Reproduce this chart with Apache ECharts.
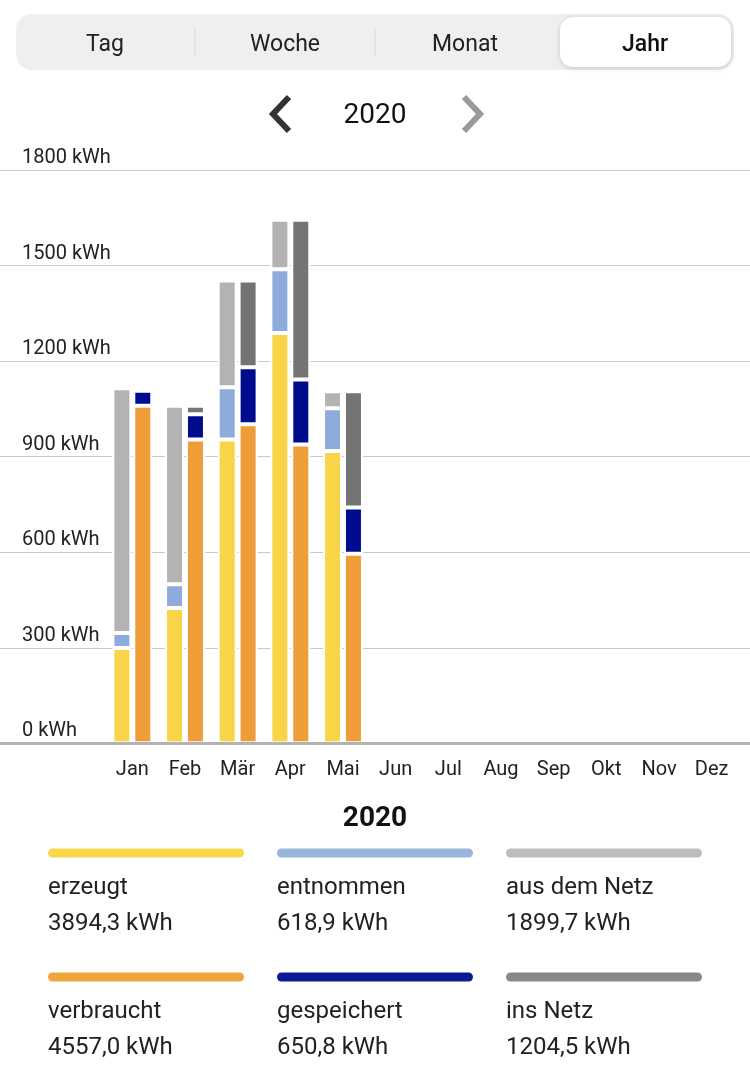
<!DOCTYPE html>
<html><head><meta charset="utf-8">
<script src="https://cdn.jsdelivr.net/npm/echarts@6/dist/echarts.min.js"></script>
<style>html,body{margin:0;padding:0;background:#fff;}#c{width:750px;height:1076px;}</style>
</head><body><div id="c"></div>
<script>
const months = ['Jan','Feb','Mär','Apr','Mai','Jun','Jul','Aug','Sep','Okt','Nov','Dez'];
const erzeugt    = [299, 425, 954, 1288, 918];
const entnommen  = [47, 74, 164, 200, 134];
const ausDemNetz = [769, 561, 335, 156, 53];
const verbraucht = [1060, 954, 1002, 938, 595];
const gespeichert= [47, 79, 179, 204, 145];
const insNetz    = [9, 27, 272, 502, 365];
const yTicks = [0, 300, 600, 900, 1200, 1500, 1800];
const legendNames  = ['erzeugt','entnommen','aus dem Netz','verbraucht','gespeichert','ins Netz'];
const legendTotals = [3894.3, 618.9, 1899.7, 4557.0, 650.8, 1204.5];
const tabs = ['Tag','Woche','Monat','Jahr'];
const yearLabel = '2020';

const colors = {
  erzeugt:'#f7d448', entnommen:'#8eacdb', ausDemNetz:'#b3b3b3',
  verbraucht:'#ef9d38', gespeichert:'#000c8e', insNetz:'#747474'
};
const legendColors = ['#f8d84a','#9ab6dc','#bdbdbd','#f0a43c','#0a1a94','#888888'];
const FONT = 'Roboto';

const chart = echarts.init(document.getElementById('c'));

function bar(name, data, stack, color){
  return {
    name, type:'bar', stack, data, xAxisIndex:1, yAxisIndex:1,
    barWidth:19, barGap:'10%',
    itemStyle:{color, borderColor:'#fff', borderWidth:2},
    emphasis:{disabled:true}, animation:false
  };
}

const graphic = [];
// tab bar
graphic.push({type:'rect', shape:{x:16,y:14,width:718,height:56,r:16}, style:{fill:'#efefef'}});
graphic.push({type:'rect', shape:{x:560,y:17,width:171,height:50,r:13},
  style:{fill:'#fff', shadowBlur:5, shadowColor:'rgba(0,0,0,0.18)', shadowOffsetY:1}});
[195,375].forEach(x=>graphic.push({type:'line', shape:{x1:x,y1:28,x2:x,y2:56}, style:{stroke:'#d6d6d6', lineWidth:1}}));
tabs.forEach((t,i)=>graphic.push({type:'text', x:105+i*180, y:45,
  style:{text:t, font:(i===3?'500 ':'')+'23px '+FONT, fill:i===3?'#111':'#222', align:'center', verticalAlign:'middle'}}));
// year navigation
graphic.push({type:'polyline', shape:{points:[[289,97],[273,114],[289,131]]}, style:{stroke:'#333', lineWidth:6, fill:null}});
graphic.push({type:'polyline', shape:{points:[[464,97],[480,114],[464,131]]}, style:{stroke:'#999', lineWidth:6, fill:null}});
graphic.push({type:'text', x:375, y:116, style:{text:yearLabel, font:'28px '+FONT, fill:'#111', align:'center', verticalAlign:'middle'}});
// summary title
graphic.push({type:'text', x:375, y:819, style:{text:yearLabel, font:'bold 28px '+FONT, fill:'#111', align:'center', verticalAlign:'middle'}});
// legend
legendNames.forEach((n,i)=>{
  const col = i%3, row = Math.floor(i/3);
  const x = 48 + col*229, y0 = 853 + row*124;
  graphic.push({type:'rect', shape:{x:x, y:y0-4.5, width:196, height:9, r:4.5}, style:{fill:legendColors[i]}});
  graphic.push({type:'text', x:x, y:y0+35, style:{text:n, font:'24px '+FONT, fill:'#222', verticalAlign:'middle'}});
  graphic.push({type:'text', x:x, y:y0+71, style:{text:legendTotals[i].toFixed(1).replace('.',',')+' kWh', font:'24px '+FONT, fill:'#222', verticalAlign:'middle'}});
});

chart.setOption({
  animation:false,
  textStyle:{fontFamily:FONT},
  grid:[
    {left:0, right:0, top:170, bottom:332.7},
    {left:106, right:12, top:170, bottom:332.7}
  ],
  xAxis:[
    {type:'value', gridIndex:0, min:0, max:1, show:true, z:10,
      axisLine:{show:true, lineStyle:{color:'#b2b2b2', width:3}},
      axisTick:{show:false}, axisLabel:{show:false}, splitLine:{show:false}},
    {type:'category', gridIndex:1, data:months,
      axisLine:{show:false}, axisTick:{show:false},
      axisLabel:{color:'#222', fontSize:20, margin:17, fontFamily:FONT}}
  ],
  yAxis:[
    {type:'value', gridIndex:0, min:0, max:1800, interval:300,
      axisLine:{show:false}, axisTick:{show:false},
      axisLabel:{inside:true, margin:22, color:'#222', fontSize:20, fontFamily:FONT,
        verticalAlign:'bottom', padding:[0,0,2,0], formatter:v=>v+' kWh'},
      splitLine:{show:true, lineStyle:{color:'#c9c9c9', width:1}}},
    {type:'value', gridIndex:1, min:0, max:1800, interval:300, show:false, splitLine:{show:false}}
  ],
  series:[
    bar('erzeugt', erzeugt, 'a', colors.erzeugt),
    bar('verbraucht', verbraucht, 'b', colors.verbraucht),
    bar('entnommen', entnommen, 'a', colors.entnommen),
    bar('gespeichert', gespeichert, 'b', colors.gespeichert),
    bar('aus dem Netz', ausDemNetz, 'a', colors.ausDemNetz),
    bar('ins Netz', insNetz, 'b', colors.insNetz)
  ],
  graphic
});
</script></body></html>
